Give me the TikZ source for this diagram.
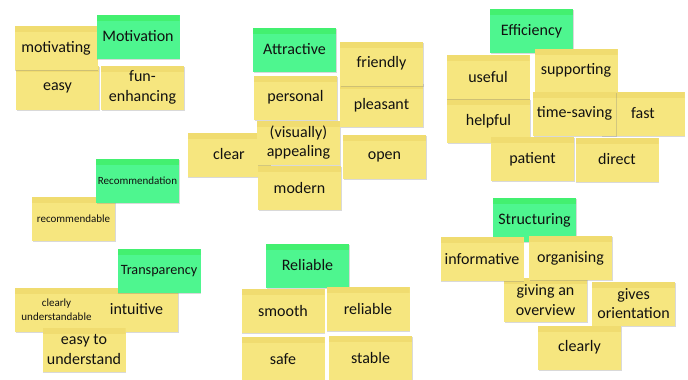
\documentclass[tikz,border=0pt]{standalone}
\usepackage{fontspec}
\setmainfont{Carlito}
\usetikzlibrary{shadows}
\definecolor{noteyellow}{HTML}{F6E67F}
\definecolor{stripyellow}{HTML}{F0DC70}
\definecolor{notegreen}{HTML}{4EF68F}
\definecolor{stripgreen}{HTML}{43F070}
\definecolor{notetext}{HTML}{111111}
\begin{document}
	\begin{tikzpicture}[x=1pt,y=-1pt,
		strip/.style={path picture={\fill[#1] (path picture bounding box.north west) rectangle ([yshift=-6pt]path picture bounding box.north east);}},
		note/.style={fill=noteyellow, strip=stripyellow, minimum width=83pt, minimum height=44pt, inner sep=1pt, align=center, text=notetext, font=\fontsize{16}{19.5}\selectfont, drop shadow={opacity=0.3, shadow xshift=0.5pt, shadow yshift=-1pt}},
		topic/.style={note, fill=notegreen, strip=stripgreen},
		small/.style={font=\fontsize{11}{14.5}\selectfont},
		narrow/.style={font=\fontsize{14.2}{17}\selectfont}]
		\useasboundingbox (0,0) rectangle (688,380);
		\node[note] (easy) at (57.5,88) {easy};
		\node[note] (motivating) at (56,48) {motivating};
		\node[topic] (motivation) at (138,36.5) {Motivation};
		\node[note] (funenhancing) at (142.5,87.5) {fun-\\enhancing};
		\node[note] (clear) at (229,154.5) {clear};
		\node[topic] (attractive) at (294.5,49.5) {Attractive};
		\node[note] (personal) at (295.5,97.5) {personal};
		\node[note] (appealing) at (298.5,142.5) {(visually)\\appealing};
		\node[note] (modern) at (299.5,187.5) {modern};
		\node[note] (pleasant) at (381.5,105) {pleasant};
		\node[note] (friendly) at (381.5,63.5) {friendly};
		\node[note] (open) at (384.5,156.5) {open};
		\node[topic] (efficiency) at (531.5,31) {Efficiency};
		\node[note] (helpful) at (488.5,121) {helpful};
		\node[note] (useful) at (488,77) {useful};
		\node[note] (supporting) at (576,70.5) {supporting};
		\node[note] (fast) at (643,113.5) {fast};
		\node[note] (timesaving) at (574.5,113.5) {time-saving};
		\node[note] (patient) at (532.5,159) {patient};
		\node[note] (direct) at (617,159.5) {direct};
		\node[note,small] (recommendable) at (73.5,218.5) {recommendable};
		\node[topic,small] (recommendation) at (137.5,180.5) {Recommendation};
		\node[note,small] (understandable) at (56.5,309.5) {clearly\\understandable};
		\node[note] (intuitive) at (136.5,309.5) {intuitive};
		\node[topic,narrow] (transparency) at (159,271) {Transparency};
		\node[note] (easytounderstand) at (84,349.5) {easy to\\understand};
		\node[topic] (reliable) at (307.5,265.5) {Reliable};
		\node[note] (smooth) at (283,310.5) {smooth};
		\node[note] (reliablenote) at (368,309) {reliable};
		\node[note] (safe) at (283,359) {safe};
		\node[note] (stable) at (370.5,358) {stable};
		\node[topic] (structuring) at (534.5,220) {Structuring};
		\node[note] (overview) at (545.5,300) {giving an\\overview};
		\node[note] (informative) at (482,259) {informative};
		\node[note] (organising) at (570.5,258) {organising};
		\node[note] (orientation) at (633.5,303.5) {gives\\orientation};
		\node[note] (clearly) at (579.5,347.5) {clearly};
	\end{tikzpicture}
\end{document}
